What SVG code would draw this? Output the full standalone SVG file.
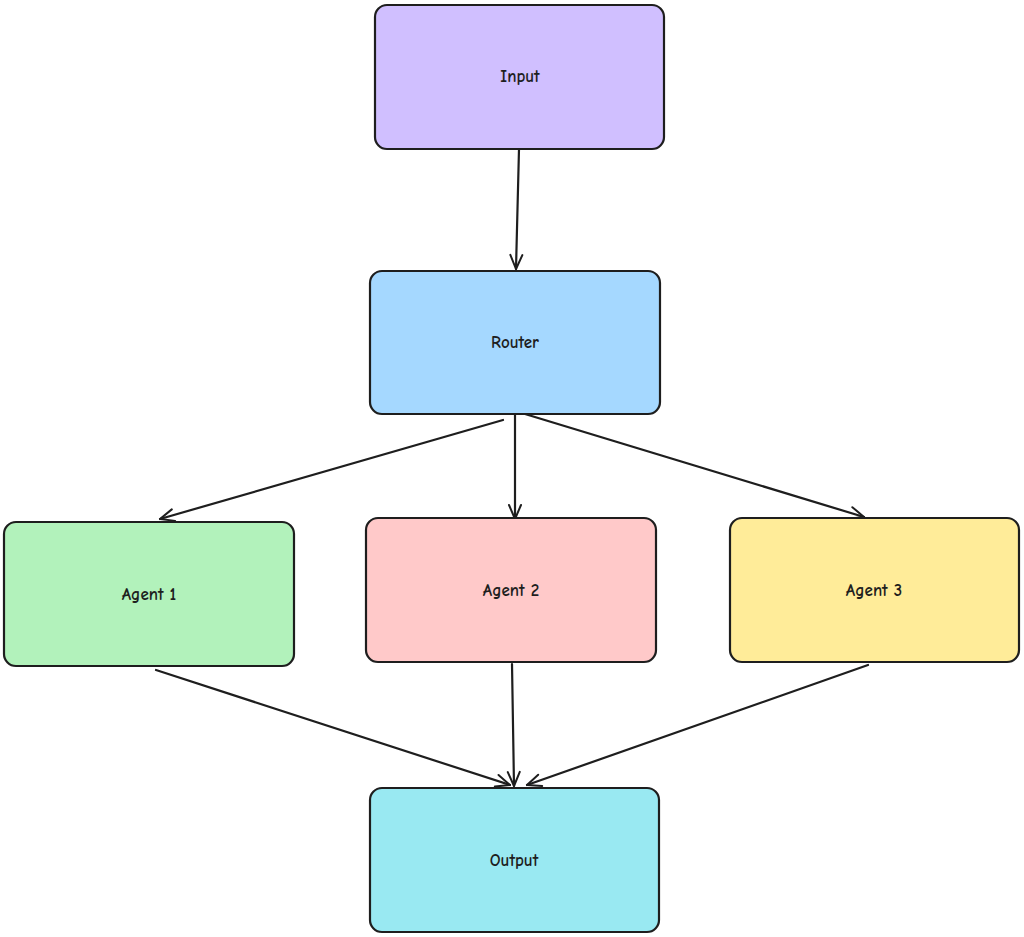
<svg xmlns="http://www.w3.org/2000/svg" width="1024" height="937" viewBox="0 0 1024 937">
<defs>
<marker id="ah" viewBox="0 0 20 20" refX="18" refY="10" markerWidth="20" markerHeight="20" markerUnits="userSpaceOnUse" orient="auto">
<path d="M4,4 L18,10 L4,16" fill="none" stroke="#1e1e1e" stroke-width="2" stroke-linecap="round" stroke-linejoin="round"/>
</marker>
</defs>
<style>
.box{stroke:#1e1e1e;stroke-width:2.2}
.lbl{font-family:"Comic Neue","Liberation Sans",sans-serif;font-size:17px;font-weight:bold;fill:#1e1e1e;text-anchor:middle;dominant-baseline:central}
.edge{fill:none;stroke:#1e1e1e;stroke-width:2.2;stroke-linecap:round;marker-end:url(#ah)}
</style>
<rect width="1024" height="937" fill="#ffffff"/>
<g id="connectors">
<path class="edge" d="M519,149 L516,269"/>
<path class="edge" d="M503,420 L160,519"/>
<path class="edge" d="M515,414 L515,519"/>
<path class="edge" d="M525,414 L864,517"/>
<path class="edge" d="M156,670 L510,785"/>
<path class="edge" d="M512,664 L514,786"/>
<path class="edge" d="M868,665 L527,785"/>
</g>
<g id="input"><rect class="box" x="375" y="5" width="289" height="144" rx="12" fill="#d0bfff"/><text class="lbl" x="520" y="76">Input</text></g>
<g id="router"><rect class="box" x="370" y="271" width="290" height="143" rx="12" fill="#a5d8ff"/><text class="lbl" x="515" y="342">Router</text></g>
<g id="agent1"><rect class="box" x="4" y="522" width="290" height="144" rx="12" fill="#b2f2bb"/><text class="lbl" x="149" y="594">Agent 1</text></g>
<g id="agent2"><rect class="box" x="366" y="518" width="290" height="144" rx="12" fill="#ffc9c9"/><text class="lbl" x="511" y="590">Agent 2</text></g>
<g id="agent3"><rect class="box" x="730" y="518" width="289" height="144" rx="12" fill="#ffec99"/><text class="lbl" x="874" y="590">Agent 3</text></g>
<g id="output"><rect class="box" x="370" y="788" width="289" height="144" rx="12" fill="#99e9f2"/><text class="lbl" x="514" y="860">Output</text></g>
</svg>
